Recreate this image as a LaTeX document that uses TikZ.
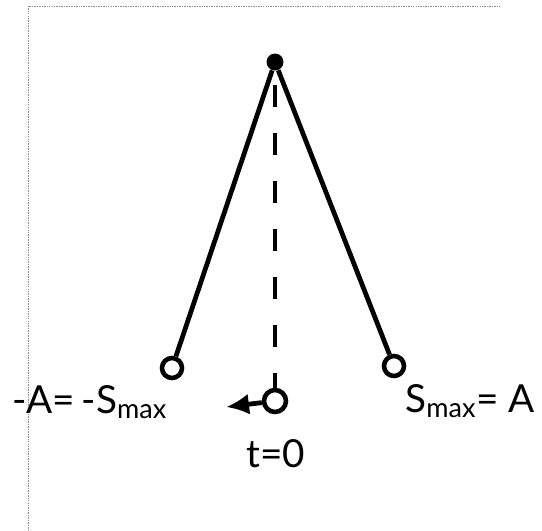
\documentclass[tikz,border=0pt]{standalone}
\usepackage{fontspec}
\setmainfont{Lato}
\usetikzlibrary{arrows.meta,positioning}

\begin{document}
\begin{tikzpicture}[
  x=0.02cm, y=-0.02cm,
  font=\fontsize{22}{24}\selectfont,
  bob/.style={circle, draw, line width=2.6pt, minimum size=0.4cm, inner sep=0pt},
  rod/.style={line width=2.7pt},
  frame/.style={draw=black!45, line width=0.5pt, dash pattern=on 0.8pt off 0.6pt},
  lbl/.style={anchor=base west, inner sep=0pt},
]
\useasboundingbox (0,0) rectangle (542,531);
\draw[frame] (28,531) -- (28,6) -- (500,6);

\node[circle, fill, minimum size=0.34cm, inner sep=0pt] (pivot) at (275,62) {};
\node[bob] (lbob) at (172,368) {};
\node[bob, minimum size=0.44cm] (cbob) at (275,401) {};
\node[bob] (rbob) at (394,366) {};
\coordinate (push) at (226,407);

\foreach \b in {lbob, rbob}
  \draw[rod] (pivot) -- (\b);
\draw[rod, dash pattern=on 0.44cm off 0.52cm, dash phase=0.68cm] (pivot) -- (cbob);
\draw[rod, -{Latex[length=4.6mm, width=4.2mm]}] (cbob) -- (push);

\node[lbl] (lmax) at (12,413) {-A=\,-S\textsubscript{max}};
\node[lbl] (rmax) at (405,412) {S\textsubscript{max}= A};
\node[anchor=base, inner sep=0pt] (t0) at (276,467) {t=0};
\end{tikzpicture}
\end{document}
